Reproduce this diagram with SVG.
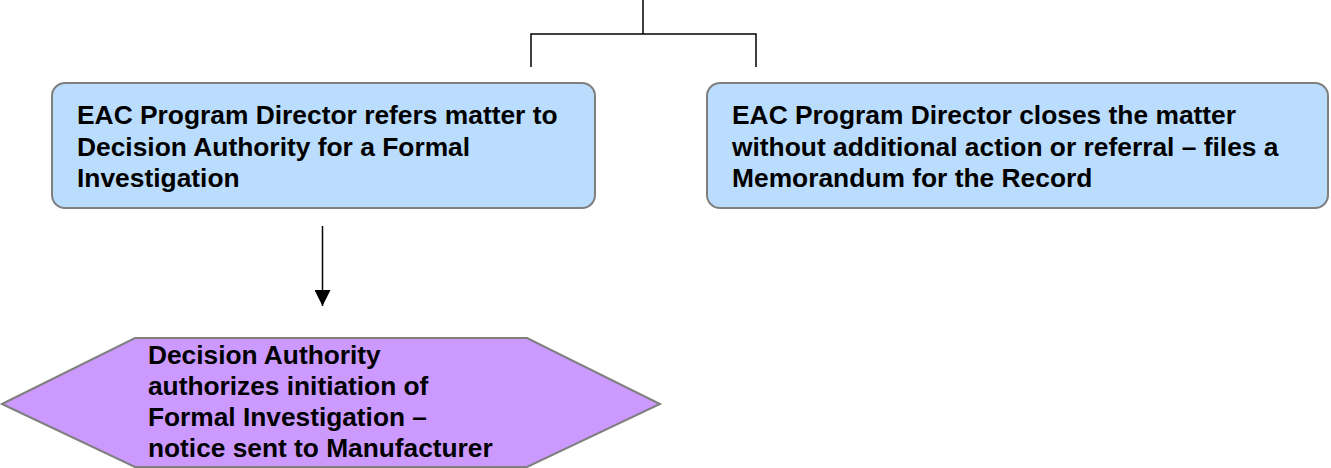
<svg xmlns="http://www.w3.org/2000/svg" width="1331" height="468" viewBox="0 0 1331 468">
<style>
.box{fill:#BBDDFD;stroke:#7F7F7F;stroke-width:2}
.hex{fill:#CC99FF;stroke:#7F7F7F;stroke-width:2}
.t{font-family:"Liberation Sans",Arial,sans-serif;font-weight:bold;font-size:25px;fill:#000}
.ln{fill:none;stroke:#000;stroke-width:1.5}
</style>
<defs>
<marker id="ah" viewBox="0 0 16 16" refX="16" refY="8" markerWidth="16" markerHeight="16" markerUnits="userSpaceOnUse" orient="auto">
<path d="M0,0 L16,8 L0,16 Z" fill="#000"/>
</marker>
</defs>
<rect width="1331" height="468" fill="#fff"/>
<g id="connectors">
<path class="ln" d="M643,0 V34 M531,67 V34 H756 V67"/>
<path class="ln" d="M322.5,226 V306" marker-end="url(#ah)"/>
</g>
<g id="node-refer">
<rect class="box" x="52" y="83" width="543" height="125" rx="13"/>
<g transform="translate(77,0) scale(1.055,1)">
<text class="t" x="0" y="124">EAC Program Director refers matter to</text>
<text class="t" x="0" y="156">Decision Authority for a Formal</text>
<text class="t" x="0" y="187">Investigation</text>
</g>
</g>
<g id="node-close">
<rect class="box" x="707" y="83" width="621" height="125" rx="13"/>
<g transform="translate(732,0) scale(1.055,1)">
<text class="t" x="0" y="124">EAC Program Director closes the matter</text>
<text class="t" x="0" y="156">without additional action or referral – files a</text>
<text class="t" x="0" y="187">Memorandum for the Record</text>
</g>
</g>
<g id="node-authorize">
<polygon class="hex" points="2,404 135,338 527,338 660,404 527,467 135,467"/>
<g transform="translate(148,0) scale(1.052,1)">
<text class="t" x="0" y="364">Decision Authority</text>
<text class="t" x="0" y="395">authorizes initiation of</text>
<text class="t" x="0" y="426">Formal Investigation –</text>
<text class="t" x="0" y="457">notice sent to Manufacturer</text>
</g>
</g>
</svg>
